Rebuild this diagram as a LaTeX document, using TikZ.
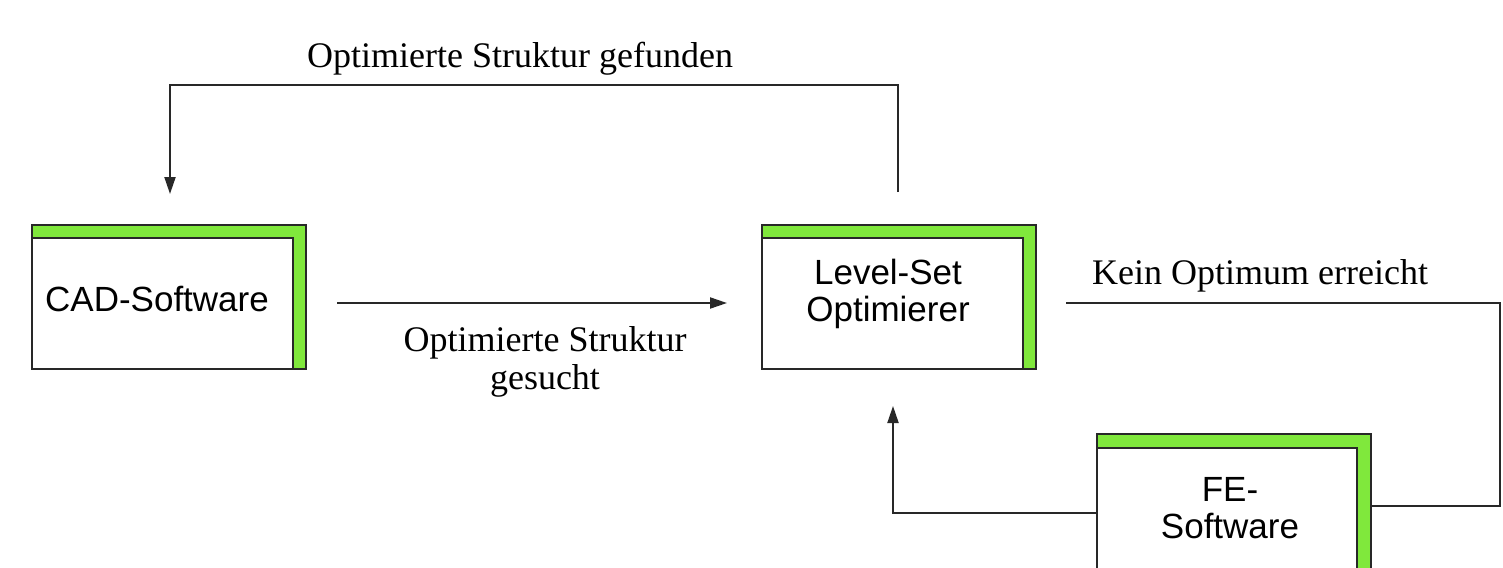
\documentclass[tikz,border=0pt]{standalone}
\usepackage{fontspec}
\setmainfont{Liberation Serif}
\newfontfamily\boxfont{Liberation Sans}
\usetikzlibrary{arrows.meta,calc}
\definecolor{boxgreen}{RGB}{128,232,60}
\definecolor{linegray}{RGB}{40,40,40}
\tikzset{
 outerbox/.style={draw=linegray, fill=boxgreen, line width=2pt, minimum width=274pt, minimum height=144pt, inner sep=0pt, outer sep=0pt},
 innerbox/.style={draw=linegray, fill=white, line width=2pt},
 boxtext/.style={font=\boxfont\fontsize{35}{37}\selectfont, align=center, inner sep=0pt},
 lbl/.style={font=\fontsize{36}{38}\selectfont, align=center, inner sep=0pt},
 conn/.style={line width=2pt, draw=linegray},
 arr/.style={conn, -{Triangle[length=17pt,width=11pt]}},
}
\begin{document}
\begin{tikzpicture}[x=1pt,y=-1pt]
\clip (0,0) rectangle (1503,567);
\fill[white] (0,0) rectangle (1503,567);
% boxes
\node[outerbox] (cad) at (169,297) {};
\draw[innerbox] ([yshift=-13pt]cad.north west) rectangle ([xshift=-13pt]cad.south east);
\node[outerbox] (lvl) at (899,297) {};
\draw[innerbox] ([yshift=-13pt]lvl.north west) rectangle ([xshift=-13pt]lvl.south east);
\node[outerbox] (fe) at (1234,506) {};
\draw[innerbox] ([yshift=-14pt]fe.north west) rectangle ([xshift=-14pt]fe.south east);
% box texts
\node[boxtext] (cadt) at (157,299) {CAD-Software};
\node[boxtext] (lvlt) at (888,294) {Level-Set\\Optimierer};
\node[boxtext] (fet) at (1230,508) {FE-\\Software};
% connector coordinates
\coordinate (a1) at (337,303);
\coordinate (a2) at (727,303);
\coordinate (t1) at (898,192);
\coordinate (tc) at (170,85);
\coordinate (t2) at (170,194);
\coordinate (r1) at (1066,303);
\coordinate (r2) at (1500,303);
\coordinate (r3) at (1500,506);
\coordinate (l1) at (893,406);
% connectors
\draw[arr] (a1) -- (a2);
\draw[arr] (t1) |- (tc) -- (t2);
\draw[conn] (r1) -- (r2) -- (r3) -- (fe.east |- r3);
\draw[arr] (fe.west |- 0,513) -| (l1);
% labels
\node[lbl] (l_top) at (520,59) {Optimierte Struktur gefunden};
\node[lbl] (l_mid) at (545,362) {Optimierte Struktur\\gesucht};
\node[lbl] (l_right) at (1260,276) {Kein Optimum erreicht};
\end{tikzpicture}
\end{document}
